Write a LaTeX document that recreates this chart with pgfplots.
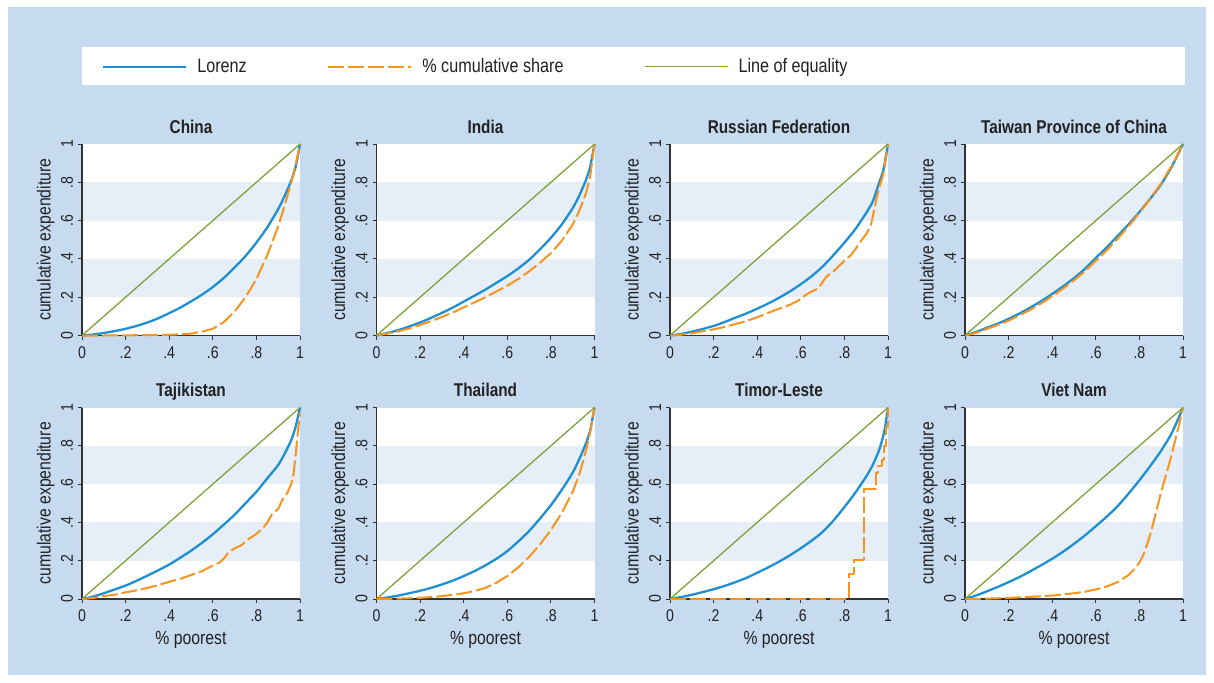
\documentclass[border=0pt]{standalone}
\usepackage{pgfplots}
\pgfplotsset{compat=1.18}
\usepackage{fontspec}
\setmainfont{Liberation Sans}[FakeStretch=0.83]
\definecolor{bgblue}{HTML}{C6DAF0}
\definecolor{band}{HTML}{E6EEF8}
\definecolor{lzblue}{HTML}{1F8FD3}
\definecolor{csorange}{HTML}{F7941D}
\definecolor{eqgreen}{HTML}{7FA23A}
\definecolor{axgray}{HTML}{333333}
\definecolor{txt}{HTML}{222222}
\pgfplotsset{
  lzpanel/.style={
    scale only axis, width=109pt, height=95.75pt, anchor=south west,
    xmin=0, xmax=1, ymin=0, ymax=1, clip=false,
    axis x line*=bottom, axis y line*=left,
    axis line style={axgray, line width=0.6pt, -},
    axis background/.style={fill=white},
    tick align=outside, major tick length=2pt,
    tick style={axgray, line width=0.5pt},
    xtick={0,0.2,0.4,0.6,0.8,1}, ytick={0,0.2,0.4,0.6,0.8,1},
    xticklabels={0,.2,.4,.6,.8,1}, yticklabels={0,.2,.4,.6,.8,1},
    tick label style={font=\fontsize{8.5}{10}\selectfont, text=txt, inner sep=0pt},
    xticklabel style={anchor=north, outer sep=3.5pt},
    yticklabel style={rotate=90, anchor=south, outer sep=2.5pt},
    ylabel={cumulative expenditure},
    ylabel style={at={(axis description cs:-0.167,0.5)}, anchor=center, rotate=0, font=\fontsize{9.5}{11}\selectfont, text=txt, inner sep=0pt},
    every axis title shift=0pt,
    title style={at={(axis description cs:0.5,1)}, anchor=base, yshift=5.5pt, font=\bfseries\fontsize{9.25}{11}\selectfont, text=txt, inner sep=0pt},
    legend image code/.code={\draw[##1] (0pt,0pt) -- (41.5pt,0pt);},
  },
  lzrow2/.style={lzpanel, xlabel={\% poorest},
    xlabel style={at={(axis description cs:0.5,-0.214)}, anchor=center, font=\fontsize{9.5}{11}\selectfont, text=txt, inner sep=0pt}},
  lz/.style={lzblue, line width=1.15pt, line join=round, smooth, tension=0.4},
  cs/.style={csorange, line width=1pt, line join=round, dash pattern=on 8pt off 2pt},
  eq/.style={eqgreen, line width=0.65pt},
}
\newcommand{\bands}{\fill[band] (axis cs:0.003,0.2) rectangle (axis cs:1,0.4); \fill[band] (axis cs:0.003,0.6) rectangle (axis cs:1,0.8);}
\begin{document}
\begin{tikzpicture}
\fill[white] (0,0) rectangle (607pt,341pt);
\fill[bgblue] (4pt,3.5pt) rectangle (603pt,337.5pt);
\fill[white] (41pt,298.5pt) rectangle (592.5pt,317.5pt);

% China
\begin{axis}[lzpanel, at={(41pt,173.25pt)}, title={China},
  legend columns=3,
  legend style={at={(axis description cs:0.092,1.403)}, anchor=west, draw=none, fill=none,
    inner sep=0pt, outer sep=0pt, column sep=0pt, font=\fontsize{9.75}{11}\selectfont, text=txt,
    nodes={inner sep=0pt, outer sep=0pt},
    /tikz/every odd column/.append style={column sep=5pt}}]
\bands
\addplot[lz] coordinates {(0,0)(0.05,0.005)(0.1,0.013)(0.15,0.023)(0.2,0.035)(0.25,0.05)(0.3,0.068)(0.35,0.09)(0.4,0.117)(0.45,0.145)(0.5,0.178)(0.55,0.213)(0.6,0.253)(0.65,0.3)(0.7,0.355)(0.75,0.415)(0.8,0.485)(0.85,0.565)(0.9,0.66)(0.93,0.73)(0.96,0.81)(0.98,0.88)(1,1)};
\addlegendentry{\makebox[65pt][l]{Lorenz}}
\addplot[cs] coordinates {(0,0)(0.1,0)(0.2,0.001)(0.3,0.002)(0.4,0.004)(0.45,0.006)(0.5,0.01)(0.55,0.02)(0.6,0.035)(0.65,0.07)(0.7,0.125)(0.75,0.2)(0.8,0.295)(0.85,0.42)(0.9,0.57)(0.93,0.68)(0.96,0.8)(0.98,0.89)(1,1)};
\addlegendentry{\makebox[111pt][l]{\% cumulative share}}
\addplot[eq] coordinates {(0,0)(1,1)};
\addlegendentry{Line of equality}
\end{axis}

% India
\begin{axis}[lzpanel, at={(188.25pt,173.25pt)}, title={India}]
\bands
\addplot[lz] coordinates {(0,0)(0.05,0.013)(0.1,0.028)(0.15,0.047)(0.2,0.068)(0.25,0.092)(0.3,0.118)(0.35,0.146)(0.4,0.177)(0.45,0.208)(0.5,0.24)(0.55,0.275)(0.6,0.31)(0.65,0.35)(0.7,0.395)(0.75,0.45)(0.8,0.51)(0.85,0.58)(0.9,0.665)(0.93,0.73)(0.96,0.81)(0.98,0.88)(1,1)};
\addplot[cs] coordinates {(0,0)(0.05,0.01)(0.1,0.022)(0.15,0.037)(0.2,0.055)(0.25,0.075)(0.3,0.097)(0.35,0.12)(0.4,0.147)(0.45,0.173)(0.5,0.2)(0.55,0.23)(0.6,0.26)(0.65,0.295)(0.7,0.335)(0.75,0.38)(0.8,0.43)(0.85,0.495)(0.9,0.58)(0.93,0.65)(0.96,0.74)(0.98,0.83)(1,1)};
\addplot[eq] coordinates {(0,0)(1,1)};
\end{axis}

% Russian Federation
\begin{axis}[lzpanel, at={(335pt,173.25pt)}, title={Russian Federation}]
\bands
\addplot[lz] coordinates {(0,0)(0.05,0.008)(0.1,0.02)(0.15,0.034)(0.2,0.05)(0.25,0.07)(0.3,0.093)(0.35,0.115)(0.4,0.14)(0.45,0.167)(0.5,0.197)(0.55,0.23)(0.6,0.268)(0.65,0.31)(0.7,0.36)(0.75,0.42)(0.8,0.485)(0.85,0.555)(0.9,0.64)(0.93,0.7)(0.96,0.8)(0.98,0.87)(1,1)};
\addplot[cs] coordinates {(0,0)(0.05,0.004)(0.1,0.012)(0.15,0.022)(0.2,0.032)(0.25,0.045)(0.3,0.06)(0.35,0.075)(0.4,0.095)(0.45,0.118)(0.5,0.14)(0.55,0.16)(0.6,0.19)(0.62,0.21)(0.65,0.23)(0.68,0.245)(0.7,0.28)(0.72,0.31)(0.75,0.335)(0.8,0.39)(0.83,0.42)(0.85,0.45)(0.88,0.5)(0.9,0.53)(0.92,0.57)(0.93,0.62)(0.95,0.73)(0.96,0.77)(0.98,0.85)(1,1)};
\addplot[eq] coordinates {(0,0)(1,1)};
\end{axis}

% Taiwan
\begin{axis}[lzpanel, at={(482.5pt,173.25pt)}, title={Taiwan Province of China}]
\bands
\addplot[lz] coordinates {(0,0)(0.05,0.018)(0.1,0.04)(0.15,0.062)(0.2,0.087)(0.25,0.115)(0.3,0.146)(0.35,0.18)(0.4,0.217)(0.45,0.257)(0.5,0.3)(0.55,0.348)(0.6,0.405)(0.65,0.46)(0.7,0.52)(0.75,0.58)(0.8,0.645)(0.85,0.715)(0.9,0.79)(0.95,0.885)(1,1)};
\addplot[cs] coordinates {(0,0)(0.05,0.014)(0.1,0.034)(0.15,0.055)(0.2,0.078)(0.25,0.105)(0.3,0.135)(0.35,0.168)(0.4,0.205)(0.45,0.245)(0.5,0.288)(0.55,0.335)(0.6,0.39)(0.65,0.445)(0.7,0.505)(0.75,0.57)(0.8,0.64)(0.85,0.715)(0.9,0.795)(0.95,0.89)(1,1)};
\addplot[eq] coordinates {(0,0)(1,1)};
\end{axis}

% Tajikistan
\begin{axis}[lzrow2, at={(41pt,41.5pt)}, title={Tajikistan}]
\bands
\addplot[lz] coordinates {(0,0)(0.05,0.012)(0.1,0.03)(0.15,0.05)(0.2,0.07)(0.25,0.095)(0.3,0.122)(0.35,0.15)(0.4,0.18)(0.45,0.215)(0.5,0.252)(0.55,0.293)(0.6,0.338)(0.65,0.388)(0.7,0.44)(0.75,0.5)(0.8,0.56)(0.85,0.63)(0.9,0.7)(0.93,0.76)(0.96,0.83)(0.98,0.9)(1,1)};
\addplot[cs] coordinates {(0,0)(0.05,0.005)(0.1,0.015)(0.15,0.022)(0.2,0.035)(0.25,0.045)(0.3,0.058)(0.35,0.072)(0.4,0.09)(0.45,0.105)(0.5,0.125)(0.55,0.145)(0.6,0.175)(0.63,0.19)(0.65,0.21)(0.67,0.24)(0.7,0.265)(0.73,0.28)(0.76,0.31)(0.8,0.34)(0.83,0.37)(0.85,0.4)(0.87,0.44)(0.9,0.47)(0.92,0.52)(0.94,0.55)(0.96,0.6)(0.97,0.65)(0.98,0.75)(0.99,0.87)(1,0.97)};
\addplot[eq] coordinates {(0,0)(1,1)};
\end{axis}

% Thailand
\begin{axis}[lzrow2, at={(188.25pt,41.5pt)}, title={Thailand}]
\bands
\addplot[lz] coordinates {(0,0)(0.05,0.008)(0.1,0.018)(0.15,0.03)(0.2,0.043)(0.25,0.058)(0.3,0.076)(0.35,0.096)(0.4,0.12)(0.45,0.146)(0.5,0.176)(0.55,0.21)(0.6,0.25)(0.65,0.3)(0.7,0.355)(0.75,0.42)(0.8,0.49)(0.85,0.57)(0.9,0.66)(0.93,0.73)(0.96,0.81)(0.98,0.88)(1,1)};
\addplot[cs] coordinates {(0,0)(0.1,0.002)(0.2,0.006)(0.3,0.015)(0.35,0.022)(0.4,0.03)(0.45,0.042)(0.5,0.058)(0.55,0.085)(0.6,0.12)(0.65,0.165)(0.7,0.22)(0.75,0.285)(0.8,0.36)(0.85,0.45)(0.9,0.56)(0.93,0.65)(0.96,0.77)(0.98,0.87)(1,1)};
\addplot[eq] coordinates {(0,0)(1,1)};
\end{axis}

% Timor-Leste
\begin{axis}[lzrow2, at={(335pt,41.5pt)}, title={Timor-Leste}]
\bands
\addplot[lz] coordinates {(0,0)(0.05,0.01)(0.1,0.022)(0.15,0.036)(0.2,0.051)(0.25,0.068)(0.3,0.088)(0.35,0.11)(0.4,0.137)(0.45,0.165)(0.5,0.195)(0.55,0.228)(0.6,0.265)(0.65,0.305)(0.7,0.35)(0.75,0.41)(0.8,0.48)(0.85,0.555)(0.9,0.64)(0.93,0.7)(0.96,0.78)(0.98,0.86)(0.99,0.92)(1,1)};
\addplot[cs, const plot] coordinates {(0,0)(0.821,0.131)(0.845,0.206)(0.89,0.572)(0.945,0.658)(0.956,0.693)(0.971,0.724)(0.982,0.8)(0.989,0.9)(1,1)};
\addplot[eq] coordinates {(0,0)(1,1)};
\end{axis}

% Viet Nam
\begin{axis}[lzrow2, at={(482.5pt,41.5pt)}, title={Viet Nam}]
\bands
\addplot[lz] coordinates {(0,0)(0.05,0.018)(0.1,0.04)(0.15,0.063)(0.2,0.088)(0.25,0.115)(0.3,0.145)(0.35,0.177)(0.4,0.21)(0.45,0.247)(0.5,0.288)(0.55,0.332)(0.6,0.38)(0.65,0.43)(0.7,0.485)(0.75,0.55)(0.8,0.62)(0.85,0.695)(0.9,0.775)(0.95,0.87)(1,1)};
\addplot[cs] coordinates {(0,0)(0.1,0.002)(0.2,0.006)(0.3,0.011)(0.4,0.018)(0.5,0.03)(0.55,0.038)(0.6,0.05)(0.65,0.065)(0.7,0.088)(0.75,0.125)(0.78,0.16)(0.8,0.19)(0.82,0.235)(0.84,0.3)(0.86,0.38)(0.88,0.47)(0.9,0.56)(0.92,0.64)(0.94,0.72)(0.96,0.81)(0.98,0.9)(1,1)};
\addplot[eq] coordinates {(0,0)(1,1)};
\end{axis}
\end{tikzpicture}
\end{document}
